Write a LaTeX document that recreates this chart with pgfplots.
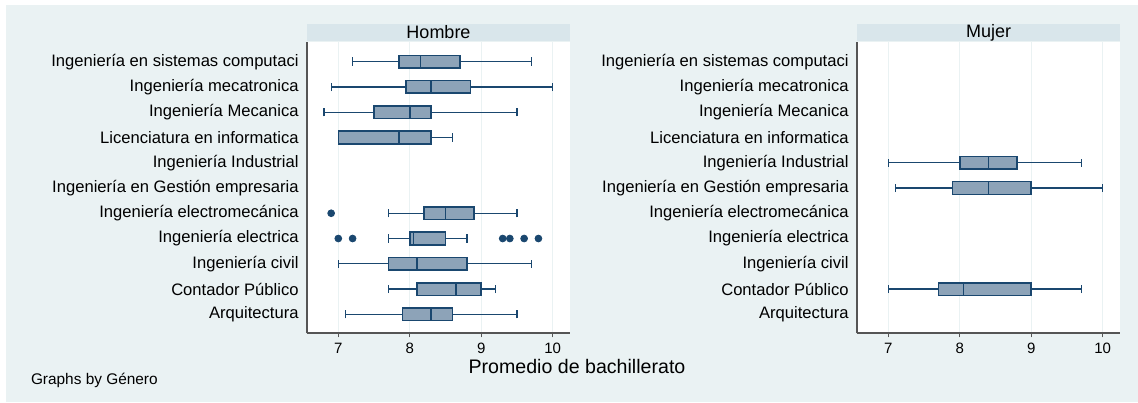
\documentclass[border=0pt]{standalone}
\usepackage{pgfplots}
\pgfplotsset{compat=1.18}
\usepgfplotslibrary{statistics}
\usepackage{fontspec}
\setmainfont{Liberation Sans}

\definecolor{bgcol}{RGB}{234,242,243}
\definecolor{stripcol}{RGB}{217,230,235}
\definecolor{stnavy}{RGB}{26,71,111}
\definecolor{boxfill}{RGB}{141,163,184}
\definecolor{axcol}{RGB}{85,85,85}

\pgfplotsset{
  panel/.style={
    scale only axis, width=131.5pt, height=145.8pt,
    anchor=south west,
    xmin=6.562, xmax=10.242, ymin=0.248, ymax=11.79,
    xtick={7,8,9,10}, ytick={1,...,11},
    yticklabels={Arquitectura, Contador Público, Ingeniería civil,
      Ingeniería electrica, Ingeniería electromecánica,
      Ingeniería en Gestión empresaria, Ingeniería Industrial,
      Licenciatura en informatica, Ingeniería Mecanica,
      Ingeniería mecatronica, Ingeniería en sistemas computaci},
    axis lines=left, axis line style={-, draw=axcol, line width=0.9pt},
    tick align=outside, major tick length=2pt,
    ytick style={draw=none}, xtick style={draw=axcol, line width=0.6pt},
    xmajorgrids, major grid style={draw=bgcol, line width=0.7pt},
    axis background/.style={fill=white},
    /pgf/number format/assume math mode=true,
    xticklabel style={font=\fontsize{7.5}{8}\selectfont, inner sep=0pt, yshift=-2.6pt},
    yticklabel style={font=\fontsize{8.3}{9}\selectfont, inner sep=0pt, xshift=-2pt},
    boxplot/draw direction=x,
    boxplot/box extend=0.5,
    boxplot/whisker extend=0.33,
    boxplot/every box/.style={draw=stnavy, fill=boxfill, line width=0.8pt},
    boxplot/every whisker/.style={draw=stnavy, line width=0.6pt},
    boxplot/every median/.style={draw=stnavy, line width=0.8pt},
    clip=false,
  },
  bx/.style={boxplot prepared={#1}},
}
\tikzset{strip/.style={anchor=south, fill=stripcol, inner sep=0pt,
  minimum width=131.5pt, minimum height=8.85pt, font=\fontsize{9}{10}\selectfont}}

\begin{document}
\begin{tikzpicture}
\useasboundingbox (0,0) rectangle (569pt,-201pt);
\fill[bgcol] (3pt,-2.5pt) rectangle (569pt,-201pt);

% Hombre
\begin{axis}[panel, at={(153.5pt,-166.65pt)}]
\node[strip] at (rel axis cs:0.5,1) {Hombre};
\addplot[bx={draw position=11, lower whisker=7.2, lower quartile=7.85, median=8.15, upper quartile=8.7, upper whisker=9.7}] coordinates {};
\addplot[bx={draw position=10, lower whisker=6.9, lower quartile=7.95, median=8.3, upper quartile=8.85, upper whisker=10.0}] coordinates {};
\addplot[bx={draw position=9, lower whisker=6.8, lower quartile=7.5, median=8.0, upper quartile=8.3, upper whisker=9.5}] coordinates {};
\addplot[bx={draw position=8, lower whisker=7.0, lower quartile=7.0, median=7.85, upper quartile=8.3, upper whisker=8.6}] coordinates {};
\addplot[bx={draw position=5, lower whisker=7.7, lower quartile=8.2, median=8.5, upper quartile=8.9, upper whisker=9.5}] coordinates {};
\addplot[bx={draw position=4, lower whisker=7.7, lower quartile=8.0, median=8.05, upper quartile=8.5, upper whisker=8.8}] coordinates {};
\addplot[bx={draw position=3, lower whisker=7.0, lower quartile=7.7, median=8.1, upper quartile=8.8, upper whisker=9.7}] coordinates {};
\addplot[bx={draw position=2, lower whisker=7.7, lower quartile=8.1, median=8.65, upper quartile=9.0, upper whisker=9.2}] coordinates {};
\addplot[bx={draw position=1, lower whisker=7.1, lower quartile=7.9, median=8.3, upper quartile=8.6, upper whisker=9.5}] coordinates {};
% outliers
\addplot[only marks, mark=*, mark size=1.7pt, color=stnavy] coordinates {
  (6.9,5) (7.0,4) (7.2,4) (9.3,4) (9.4,4) (9.6,4) (9.8,4)
};
\end{axis}

% Mujer
\begin{axis}[panel, at={(428.5pt,-166.65pt)}]
\node[strip] at (rel axis cs:0.5,1) {Mujer};
\addplot[bx={draw position=7, lower whisker=7.0, lower quartile=8.0, median=8.4, upper quartile=8.8, upper whisker=9.7}] coordinates {};
\addplot[bx={draw position=6, lower whisker=7.1, lower quartile=7.9, median=8.4, upper quartile=9.0, upper whisker=10.0}] coordinates {};
\addplot[bx={draw position=2, lower whisker=7.0, lower quartile=7.7, median=8.05, upper quartile=9.0, upper whisker=9.7}] coordinates {};
\end{axis}

\node[font=\fontsize{9.8}{11}\selectfont] at (288.5pt,-183pt) {Promedio de bachillerato};
\node[font=\fontsize{7.7}{9}\selectfont, anchor=west, inner sep=0pt] at (15.3pt,-190.3pt) {Graphs by Género};
\end{tikzpicture}
\end{document}
